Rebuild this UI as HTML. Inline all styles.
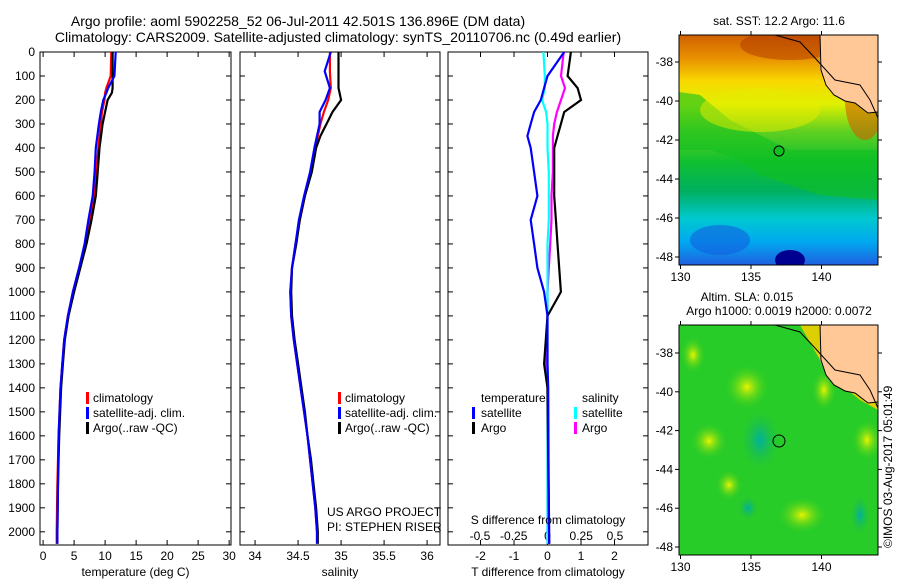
<!DOCTYPE html>
<html><head><meta charset="utf-8"><style>
body{margin:0;background:#fff;}
svg{display:block;font-family:"Liberation Sans",sans-serif;}
</style></head><body>
<svg id="fig" width="900" height="580" viewBox="0 0 900 580" xmlns="http://www.w3.org/2000/svg">
<defs>
<linearGradient id="sstg" x1="0" y1="0" x2="0" y2="1">
<stop offset="0" stop-color="#d06000"/><stop offset="0.1" stop-color="#e89000"/><stop offset="0.2" stop-color="#f8d800"/><stop offset="0.3" stop-color="#e0f000"/><stop offset="0.42" stop-color="#60d020"/><stop offset="0.55" stop-color="#10c030"/><stop offset="0.68" stop-color="#00b060"/><stop offset="0.8" stop-color="#00c8d0"/><stop offset="0.9" stop-color="#00a8f0"/><stop offset="1" stop-color="#2060e0"/>
</linearGradient>
<radialGradient id="ylb"><stop offset="0" stop-color="#e8f400"/><stop offset="1" stop-color="#40d020" stop-opacity="0"/></radialGradient>
<radialGradient id="cyb"><stop offset="0" stop-color="#00b0a0"/><stop offset="1" stop-color="#20c040" stop-opacity="0"/></radialGradient>
<clipPath id="c1"><rect x="40" y="52" width="191" height="493"/></clipPath>
<clipPath id="c2"><rect x="240" y="52" width="200" height="493"/></clipPath>
<clipPath id="c3"><rect x="448" y="52" width="200" height="493"/></clipPath>
<clipPath id="cm1"><rect x="679" y="35" width="199" height="230"/></clipPath>
<clipPath id="cm2"><rect x="679" y="325" width="199" height="230"/></clipPath>
</defs>
<g font-size="14" text-anchor="middle" fill="#000">
<text x="298" y="26">Argo profile: aoml 5902258_52 06-Jul-2011 42.501S 136.896E (DM data)</text>
<text x="338" y="42">Climatology: CARS2009. Satellite-adjusted climatology: synTS_20110706.nc (0.49d earlier)</text>
</g>
<g id="axes"></g>
<g id="series"></g>
<g>
<text x="779" y="25" font-size="12" text-anchor="middle">sat. SST: 12.2 Argo: 11.6</text>
<g clip-path="url(#cm1)">
<rect x="679" y="35" width="199" height="230" fill="url(#sstg)"/>
<polygon points="679,92 700,95 730,120 760,135 790,150 878,150 878,200 820,195 790,185 760,175 740,160 710,150 679,150" fill="#10c020" opacity="0.6"/>
<ellipse cx="760" cy="110" rx="60" ry="22" fill="#e8ec00" opacity="0.5"/>
<ellipse cx="720" cy="240" rx="30" ry="15" fill="#1060e0" opacity="0.6"/>
<ellipse cx="790" cy="260" rx="15" ry="10" fill="#000090"/>
<ellipse cx="790" cy="45" rx="50" ry="15" fill="#b03800" opacity="0.5"/>
<ellipse cx="865" cy="100" rx="20" ry="40" fill="#d06000" opacity="0.6"/>
<polygon points="820,35 878,35 878,112 868,113 855,103 845,101 834,95 826,85 820,70" fill="#ffc896"/>
<polyline points="775,35 800,42 815,58 835,80 860,85 870,100 878,118" fill="none" stroke="#000" stroke-width="1"/>
<polyline points="820,35 821,70 826,85 834,95 845,101 855,103 868,113 878,112" fill="none" stroke="#000" stroke-width="1"/>
</g>
<circle cx="779" cy="151" r="5" fill="#10c020" stroke="#000"/>
<rect x="679" y="35" width="199" height="230" fill="none" stroke="#000"/>
</g>
<g>
<text x="747" y="301" font-size="12" text-anchor="middle">Altim. SLA: 0.015</text>
<text x="779" y="315" font-size="12" text-anchor="middle">Argo h1000: 0.0019 h2000: 0.0072</text>
<g clip-path="url(#cm2)">
<rect x="679" y="325" width="199" height="230" fill="#28cc28"/>
<ellipse cx="747" cy="387" rx="22" ry="22" fill="url(#ylb)"/>
<ellipse cx="709" cy="441" rx="18" ry="18" fill="url(#ylb)"/>
<ellipse cx="729" cy="485" rx="13" ry="15" fill="url(#ylb)"/>
<ellipse cx="802" cy="515" rx="24" ry="18" fill="url(#ylb)"/>
<ellipse cx="824" cy="390" rx="12" ry="20" fill="url(#ylb)"/>
<ellipse cx="867" cy="440" rx="15" ry="20" fill="url(#ylb)"/>
<ellipse cx="693" cy="355" rx="12" ry="18" fill="url(#ylb)"/>
<ellipse cx="760" cy="440" rx="20" ry="30" fill="url(#cyb)"/>
<ellipse cx="860" cy="515" rx="10" ry="20" fill="url(#cyb)"/>
<ellipse cx="748" cy="508" rx="10" ry="12" fill="url(#cyb)"/>
<polygon points="800,325 878,325 878,410 860,400 835,380 820,360" fill="#f0d000" opacity="0.9"/>
<polygon points="820,325 878,325 878,402 868,403 855,393 845,391 834,385 826,375 820,360" fill="#ffc896"/>
<polyline points="775,325 800,332 815,348 835,370 860,375 870,390 878,408" fill="none" stroke="#000"/>
<polyline points="820,325 821,360 826,375 834,385 845,391 855,393 868,403 878,402" fill="none" stroke="#000"/>
</g>
<circle cx="779" cy="441" r="6" fill="none" stroke="#000"/>
<rect x="679" y="325" width="199" height="230" fill="none" stroke="#000"/>
</g>
<g id="mapaxes" font-size="12"></g>
<text transform="translate(892,548) rotate(-90)" font-size="12">©IMOS 03-Aug-2017 05:01:49</text>
<g font-size="12">
<rect x="86" y="392" width="3" height="12" fill="#f00"/><text x="93" y="402">climatology</text>
<rect x="86" y="407" width="3" height="12" fill="#00f"/><text x="93" y="417">satellite-adj. clim.</text>
<rect x="86" y="422" width="3" height="12" fill="#000"/><text x="93" y="432">Argo(..raw -QC)</text>
</g>
<g font-size="12">
<rect x="338" y="392" width="3" height="12" fill="#f00"/><text x="345" y="402">climatology</text>
<rect x="338" y="407" width="3" height="12" fill="#00f"/><text x="345" y="417">satellite-adj. clim.</text>
<rect x="338" y="422" width="3" height="12" fill="#000"/><text x="345" y="432">Argo(..raw -QC)</text>
<text x="327" y="516">US ARGO PROJECT</text>
<text x="327" y="531">PI: STEPHEN RISER</text>
</g>
<g font-size="12">
<text x="481" y="402">temperature</text><text x="582" y="402">salinity</text>
<rect x="472" y="407" width="3" height="12" fill="#00f"/><text x="481" y="417">satellite</text>
<rect x="472" y="422" width="3" height="12" fill="#000"/><text x="481" y="432">Argo</text>
<rect x="574" y="407" width="3" height="12" fill="#0ff"/><text x="582" y="417">satellite</text>
<rect x="574" y="422" width="3" height="12" fill="#f0f"/><text x="582" y="432">Argo</text>
<text x="548" y="524" text-anchor="middle">S difference from climatology</text>
</g>
</svg>
<script>
// shared depth axis
const yTicks=[0,100,200,300,400,500,600,700,800,900,1000,1100,1200,1300,1400,1500,1600,1700,1800,1900,2000];
// temperature panel data
const tDepth=[0,100,150,170,200,250,300,400,500,600,700,800,900,1000,1100,1200,1300,1400,1600,1800,2000,2050];
const tArgo=[11.2,11.2,11.2,11.1,10.4,10.0,9.6,9.1,8.8,8.5,7.8,7.0,6.0,5.0,4.1,3.5,3.2,2.9,2.6,2.4,2.3,2.3];
const tClim=[11.0,10.9,10.2,10.0,9.9,9.5,9.3,8.9,8.6,8.2,7.5,6.8,5.8,4.8,4.0,3.4,3.1,2.8,2.5,2.3,2.2,2.2];
const tSat=[11.7,11.5,10.5,10.2,9.7,9.3,9.0,8.5,8.3,8.0,7.3,6.7,5.8,4.8,4.0,3.4,3.1,2.8,2.5,2.4,2.3,2.3];
const tTicks=[0,5,10,15,20,25,30];
// salinity panel data
const sDepth=[0,80,150,200,250,300,350,400,500,600,700,800,900,1000,1100,1200,1300,1400,1500,1600,1700,1800,1900,2000,2050];
const sArgo=[34.97,34.97,34.97,35.0,34.9,34.83,34.76,34.71,34.66,34.58,34.52,34.48,34.43,34.42,34.43,34.46,34.5,34.54,34.58,34.61,34.65,34.68,34.71,34.73,34.73];
const sClim=[34.87,34.87,34.88,34.85,34.8,34.76,34.73,34.7,34.65,34.58,34.52,34.47,34.43,34.41,34.42,34.45,34.49,34.53,34.57,34.61,34.64,34.67,34.7,34.72,34.72];
const sSat=[34.88,34.81,34.87,34.82,34.75,34.75,34.72,34.69,34.64,34.57,34.51,34.47,34.43,34.41,34.42,34.45,34.49,34.53,34.57,34.61,34.64,34.67,34.7,34.72,34.72];
const sTicks=[34,34.5,35,35.5,36];
// difference panel data
const dDepth=[0,100,150,200,250,300,350,400,500,600,700,800,900,1000,1100,1300,1400,1700,2050];
const dTSat=[0.5,0.0,-0.1,-0.2,-0.4,-0.5,-0.6,-0.5,-0.4,-0.3,-0.5,-0.4,-0.3,-0.1,0.0,0.0,0.02,0.03,0.05];
const dTArgo=[0.7,0.6,0.9,1.0,0.5,0.4,0.3,0.2,0.2,0.2,0.25,0.3,0.35,0.4,0.0,-0.1,0.0,0.02,0.05];
const dSSat=[-0.03,-0.02,-0.02,-0.04,-0.01,0.0,0.0,0.0,0.01,0.01,0.01,0.0,0.0,0.0,0.0,0.0,0.0,0.0,0.0];
const dSArgo=[0.12,0.1,0.13,0.1,0.07,0.05,0.04,0.04,0.04,0.03,0.03,0.02,0.01,0.0,0.0,-0.01,0.0,0.0,0.0];
const dTTicks=[-2,-1,0,1,2];
const dSTicks=[-0.5,-0.25,0,0.25,0.5];
const dSTickLabels=["-0.5","-0.25","0","0.25","0.5"];
// map ticks
const lonTicks=[130,135,140];
const latTicks=[-38,-40,-42,-44,-46,-48];

const NS="http://www.w3.org/2000/svg";
const axes=document.getElementById('axes'), ser=document.getElementById('series'), mapax=document.getElementById('mapaxes');
function mk(tag,attrs,parent){const e=document.createElementNS(NS,tag);for(const k in attrs)e.setAttribute(k,attrs[k]);parent.appendChild(e);return e;}
const Y0=52,Y1=545,D0=0,D1=2055;
const yS=d=>Y0+(d-D0)/(D1-D0)*(Y1-Y0);
function xScale(x0,x1,v0,v1){return v=>x0+(v-v0)/(v1-v0)*(x1-x0);}
const panels=[
 {name:'temperature',x0:40,x1:231,v0:-0.5,v1:30.3,ticks:tTicks,labels:tTicks.map(String),title:'temperature (deg C)',clip:'c1'},
 {name:'salinity',x0:240,x1:440,v0:33.825,v1:36.15,ticks:sTicks,labels:sTicks.map(String),title:'salinity',clip:'c2'},
 {name:'difference',x0:448,x1:648,v0:-2.97,v1:3.0,ticks:dTTicks,labels:dTTicks.map(String),title:'T difference from climatology',clip:'c3'}
];
panels.forEach((p,i)=>{
 p.xs=xScale(p.x0,p.x1,p.v0,p.v1);
 const r=mk('rect',{x:p.x0,y:Y0,width:p.x1-p.x0,height:Y1-Y0,fill:'none',stroke:'#000','stroke-width':1},axes);
 
 
 yTicks.forEach(d=>{
  const y=yS(d);
  mk('line',{x1:p.x0,x2:p.x0+5,y1:y,y2:y,stroke:'#000'},axes);
  mk('line',{x1:p.x1-5,x2:p.x1,y1:y,y2:y,stroke:'#000'},axes);
  if(i==0){const t=mk('text',{x:35,y:y+4,'font-size':12,'text-anchor':'end'},axes);t.textContent=d;
   
   }
 });
 p.ticks.forEach((v,j)=>{
  const x=p.xs(v);
  mk('line',{x1:x,x2:x,y1:Y1,y2:Y1-5,stroke:'#000'},axes);
  mk('line',{x1:x,x2:x,y1:Y0,y2:Y0+5,stroke:'#000'},axes);
  const t=mk('text',{x:x,y:560,'font-size':12,'text-anchor':'middle'},axes);t.textContent=p.labels[j];
  
  
 });
 const tt=mk('text',{x:(p.x0+p.x1)/2,y:576,'font-size':12,'text-anchor':'middle'},axes);tt.textContent=p.title;
 
 
});
const sdx=xScale(448,648,-0.737,0.745);
dSTicks.forEach((v,j)=>{
 const t=mk('text',{x:sdx(v),y:540,'font-size':12,'text-anchor':'middle'},axes);t.textContent=dSTickLabels[j];
 
 
});
function line(xs,vals,depths,color,name,clip){
 const pts=vals.map((v,k)=>xs(v).toFixed(1)+','+yS(depths[k]).toFixed(1)).join(' ');
 const l=mk('polyline',{points:pts,fill:'none',stroke:color,'stroke-width':2.2,'clip-path':'url(#'+clip+')'},ser);
 
 
}
const P=panels;
line(P[0].xs,tClim,tDepth,'#f00','temperature-climatology-line','c1');
line(P[0].xs,tArgo,tDepth,'#000','temperature-argo-line','c1');
line(P[0].xs,tSat,tDepth,'#00f','temperature-satellite-line','c1');
line(P[1].xs,sClim,sDepth,'#f00','salinity-climatology-line','c2');
line(P[1].xs,sArgo,sDepth,'#000','salinity-argo-line','c2');
line(P[1].xs,sSat,sDepth,'#00f','salinity-satellite-line','c2');
line(sdx,dSArgo,dDepth,'#f0f','s-diff-argo-line','c3');
line(sdx,dSSat,dDepth,'#0ff','s-diff-satellite-line','c3');
line(P[2].xs,dTArgo,dDepth,'#000','t-diff-argo-line','c3');
line(P[2].xs,dTSat,dDepth,'#00f','t-diff-satellite-line','c3');
const lonX=xScale(680.5,821.5,130,140);
[[35,265,62,257],[325,555,353,547]].forEach((m,mi)=>{
 const latY=v=>m[2]+(v-(-38))/(-10)*(m[3]-m[2]);
 lonTicks.forEach(v=>{const x=lonX(v);
  mk('line',{x1:x,x2:x,y1:m[1],y2:m[1]+4,stroke:'#000'},mapax);
  mk('line',{x1:x,x2:x,y1:m[0],y2:m[0]-4,stroke:'#000'},mapax);
  const t=mk('text',{x:x,y:m[1]+16,'text-anchor':'middle'},mapax);t.textContent=v;
  
  });
 latTicks.forEach(v=>{const y=latY(v);
  mk('line',{x1:675,x2:679,y1:y,y2:y,stroke:'#000'},mapax);
  mk('line',{x1:878,x2:882,y1:y,y2:y,stroke:'#000'},mapax);
  const t=mk('text',{x:673,y:y+4,'text-anchor':'end'},mapax);t.textContent=v;
  
  });
});
</script>
</body></html>
